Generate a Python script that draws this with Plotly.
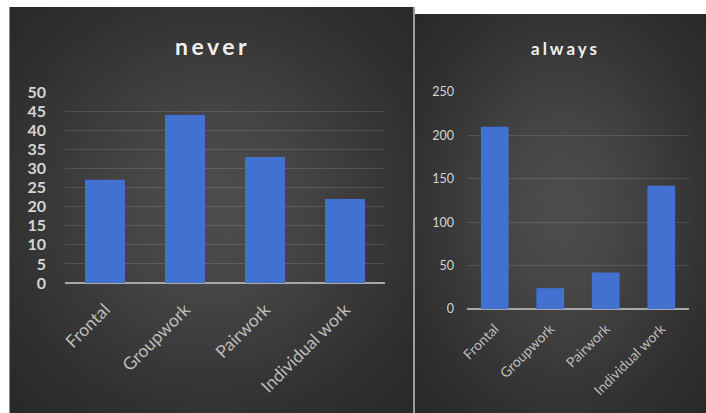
import base64
import struct
import zlib

import numpy as np
import plotly.graph_objects as go

W, H = 706, 413

categories = ["Frontal", "Groupwork", "Pairwork", "Individual work"]
never_counts = [27, 44, 33, 22]
always_counts = [210, 24, 42, 142]

never_ticks = [0, 5, 10, 15, 20, 25, 30, 35, 40, 45, 50]
always_ticks = [0, 50, 100, 150, 200, 250]

BAR = "#4371d2"
GRID = "rgba(255,255,255,0.12)"
ZERO = "#a8a8a8"


def px(x):
    return x / W


def py(y):
    return 1 - y / H


def png_data_uri(rgb):
    """Encode an (h, w, 3) uint8 array as a base64 PNG data URI."""
    h, w, _ = rgb.shape
    raw = b"".join(b"\x00" + rgb[r].tobytes() for r in range(h))

    def chunk(tag, data):
        c = struct.pack(">I", len(data)) + tag + data
        return c + struct.pack(">I", zlib.crc32(tag + data) & 0xFFFFFFFF)

    png = (b"\x89PNG\r\n\x1a\n"
           + chunk(b"IHDR", struct.pack(">IIBBBBB", w, h, 8, 2, 0, 0, 0))
           + chunk(b"IDAT", zlib.compress(raw, 9))
           + chunk(b"IEND", b""))
    return "data:image/png;base64," + base64.b64encode(png).decode()


def card_background():
    """White page with two dark cards, each lit by a soft radial glow."""
    img = np.full((H, W), 255.0)
    yy, xx = np.mgrid[0:H, 0:W].astype(float)
    cards = [  # x0, y0, x1, y1, glow centre x, glow centre y
        (10, 7, 413, 413, 212, 205),
        (415, 14, 706, 413, 562, 210),
    ]
    for x0, y0, x1, y1, cx, cy in cards:
        rx, ry = (x1 - x0) / 2, (y1 - y0) / 2
        d2 = ((xx - cx) / rx) ** 2 + ((yy - cy) / ry) ** 2
        glow = 36 + 40 * np.exp(-1.0 * d2)
        inside = (xx >= x0) & (xx < x1) & (yy >= y0) & (yy < y1)
        img[inside] = glow[inside]
    # thin light edges on the cards
    img[7:, 9] = 140
    img[7:, 413:415] = 155
    g = np.clip(img, 0, 255).astype(np.uint8)
    return png_data_uri(np.stack([g, g, g], axis=-1))


fig = go.Figure()
fig.add_trace(go.Bar(x=categories, y=never_counts, marker=dict(color=BAR, line=dict(width=0)),
                     xaxis="x", yaxis="y", showlegend=False))
fig.add_trace(go.Bar(x=categories, y=always_counts, marker=dict(color=BAR, line=dict(width=0)),
                     xaxis="x2", yaxis="y2", showlegend=False))

font_family = "Lato, 'Open Sans', sans-serif"

fig.update_layout(
    width=W, height=H,
    margin=dict(l=0, r=0, t=0, b=0),
    paper_bgcolor="white",
    plot_bgcolor="rgba(0,0,0,0)",
    bargap=0.5,
    images=[dict(source=card_background(), xref="paper", yref="paper",
                 x=0, y=1, sizex=1, sizey=1, sizing="stretch",
                 xanchor="left", yanchor="top", layer="below")],
    font=dict(family=font_family),
    xaxis=dict(domain=[px(65), px(385)], anchor="y", tickangle=-45,
               tickfont=dict(size=17.5, color="#bdbdbd"), showgrid=False,
               showline=False, zeroline=False, ticks="", ticklabelstandoff=12,
               automargin=False, fixedrange=True),
    yaxis=dict(domain=[py(283), py(92)], anchor="x", range=[0, 50],
               tickvals=never_ticks,
               tickfont=dict(size=16, color="#d6d6d6", weight="bold"),
               showgrid=True, gridcolor=GRID, gridwidth=1,
               zeroline=True, zerolinecolor=ZERO, zerolinewidth=1.5,
               ticks="", ticklabelstandoff=18, automargin=False, fixedrange=True),
    xaxis2=dict(domain=[px(467), px(689)], anchor="y2", tickangle=-45,
                tickfont=dict(size=14, color="#bdbdbd"), showgrid=False,
                showline=False, zeroline=False, ticks="", ticklabelstandoff=8,
                automargin=False, fixedrange=True),
    yaxis2=dict(domain=[py(309), py(92)], anchor="x2", range=[0, 250],
                tickvals=always_ticks, tickfont=dict(size=12.5, color="#d4d4d4"),
                showgrid=True, gridcolor=GRID, gridwidth=1,
                zeroline=True, zerolinecolor=ZERO, zerolinewidth=1.5,
                ticks="", ticklabelstandoff=12, automargin=False, fixedrange=True),
    annotations=[
        dict(text="<b><span style='letter-spacing:3.5px'>never</span></b>",
             xref="paper", yref="paper", x=px(212), y=py(46),
             xanchor="center", yanchor="middle", showarrow=False,
             font=dict(size=23, color="#f0f0f0", family=font_family)),
        dict(text="<b><span style='letter-spacing:3px'>always</span></b>",
             xref="paper", yref="paper", x=px(565), y=py(48),
             xanchor="center", yanchor="middle", showarrow=False,
             font=dict(size=17, color="#f0f0f0", family=font_family)),
    ],
)

fig.write_html("out.html")
